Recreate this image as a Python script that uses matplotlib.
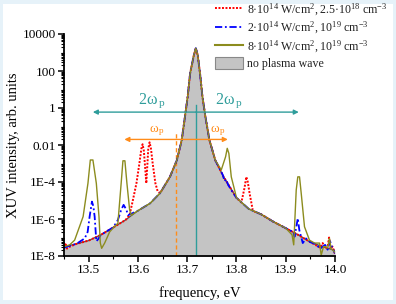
import matplotlib
matplotlib.use('Agg')
import matplotlib.pyplot as plt
from matplotlib.patches import Rectangle, Patch
from matplotlib.lines import Line2D
from matplotlib.ticker import FixedLocator, NullFormatter, MultipleLocator

plt.rcParams['font.family'] = ['Liberation Serif', 'DejaVu Serif']
plt.rcParams['mathtext.fontset'] = 'custom'
plt.rcParams['mathtext.rm'] = 'Liberation Serif'
plt.rcParams['mathtext.it'] = 'Liberation Serif:italic'

# ---------------- data ----------------
base_x = [13.450, 13.475, 13.500, 13.525, 13.550, 13.575, 13.600, 13.625, 13.645, 13.665,
          13.679, 13.689, 13.6955, 13.701, 13.706, 13.7135, 13.7175, 13.7215, 13.726, 13.731,
          13.737, 13.745, 13.757, 13.774, 13.800, 13.825, 13.850, 13.875, 13.900, 13.925,
          13.950, 13.975, 14.000]
base_y = [3.2e-8, 4.5e-8, 6.8e-8, 1.4e-7, 3.5e-7, 8.9e-7, 2.8e-6, 7.1e-6, 2.5e-5, 1.9e-4,
          1.5e-3, 1.9e-2, 0.34, 4.1, 76, 710, 1700, 710, 76, 4.1,
          0.34, 1.9e-2, 1.5e-3, 1.9e-4, 1.4e-5, 3.5e-6, 1.8e-6, 7.1e-7, 3.2e-7, 1.4e-7,
          5.6e-8, 3.2e-8, 2.0e-8]

red_x = [13.450, 13.453, 13.456, 13.462, 13.475, 13.500, 13.525, 13.550, 13.575, 13.583,
         13.590, 13.597, 13.603, 13.607, 13.6095, 13.612, 13.6155, 13.617, 13.6185, 13.621,
         13.6237, 13.6265, 13.630, 13.6355, 13.640, 13.645, 13.665, 13.679, 13.689, 13.6955,
         13.701, 13.706, 13.7135, 13.7175, 13.7215, 13.726, 13.731, 13.737, 13.745, 13.757,
         13.774, 13.800, 13.810, 13.8165, 13.820, 13.823, 13.8266, 13.833, 13.838, 13.850,
         13.875, 13.900, 13.925, 13.950, 13.960, 13.970, 13.975, 13.980, 13.985, 13.988,
         13.991, 13.995, 14.000]
red_y = [2.5e-8, 5.0e-8, 2.5e-8, 3.2e-8, 4.5e-8, 6.8e-8, 1.4e-7, 3.5e-7, 8.9e-7, 1.6e-6,
         1.1e-5, 8.5e-5, 1.0e-3, 6.3e-3, 1.1e-2, 5.0e-3, 3.2e-4, 8.5e-5, 4.0e-4, 6.3e-3,
         1.4e-2, 6.3e-3, 1.0e-3, 8.5e-5, 3.2e-5, 2.5e-5, 1.9e-4, 1.5e-3, 1.9e-2, 0.34,
         4.1, 76, 710, 1700, 710, 76, 4.1, 0.34, 1.9e-2, 1.5e-3,
         1.9e-4, 1.4e-5, 7.9e-6, 5.0e-5, 1.9e-4, 1.0e-4, 2.5e-5, 3.1e-6, 2.4e-6, 1.8e-6,
         7.1e-7, 3.2e-7, 1.4e-7, 5.6e-8, 4.0e-8, 2.8e-8, 5.0e-8, 2.5e-8, 3.2e-8, 1.0e-7,
         2.5e-8, 3.2e-8, 1.3e-8]

blue_x = [13.450, 13.460, 13.475, 13.492, 13.498, 13.502, 13.5067, 13.5095, 13.5122, 13.5156,
          13.519, 13.525, 13.550, 13.5594, 13.566, 13.571, 13.5765, 13.580, 13.600, 13.625,
          13.645, 13.665, 13.679, 13.689, 13.6955, 13.701, 13.706, 13.7135, 13.7175, 13.7215,
          13.726, 13.731, 13.737, 13.745, 13.757, 13.772, 13.776, 13.779, 13.783, 13.790,
          13.800, 13.825, 13.850, 13.875, 13.900, 13.915, 13.918, 13.9245, 13.9276, 13.9346,
          13.9412, 13.950, 13.960, 13.970, 13.980, 13.985, 13.990, 13.995, 14.000]
blue_y = [2.8e-8, 3.5e-8, 4.5e-8, 8.9e-8, 2.0e-7, 1.35e-6, 8.7e-6, 5.0e-6, 1.35e-6, 6.3e-8,
          7.9e-8, 1.4e-7, 3.5e-7, 8.9e-7, 3.1e-6, 5.8e-6, 3.2e-6, 1.6e-6, 2.8e-6, 7.1e-6,
          2.5e-5, 1.9e-4, 1.5e-3, 1.9e-2, 0.34, 4.1, 76, 710, 1700, 710,
          76, 4.1, 0.34, 1.9e-2, 1.5e-3, 2.5e-4, 1.1e-4, 1.4e-4, 7.1e-5, 3.5e-5,
          1.4e-5, 3.5e-6, 1.8e-6, 7.1e-7, 3.2e-7, 2.0e-7, 1.1e-7, 1.1e-6, 2.5e-7, 5.0e-8,
          8.9e-8, 5.6e-8, 4.5e-8, 2.5e-8, 4.0e-8, 2.2e-8, 6.3e-8, 2.5e-8, 1.4e-8]

olive_x = [13.450, 13.4615, 13.4716, 13.4888, 13.4986, 13.5034, 13.5087, 13.5156, 13.521, 13.5237,
           13.5264, 13.5325, 13.5426, 13.5527, 13.5594, 13.566, 13.5696, 13.5736, 13.5777, 13.5832,
           13.5866, 13.600, 13.625, 13.645, 13.665, 13.679, 13.689, 13.6955, 13.701, 13.706,
           13.7135, 13.7175, 13.7215, 13.726, 13.731, 13.737, 13.745, 13.757, 13.7692, 13.7779,
           13.7813, 13.7846, 13.7895, 13.7962, 13.800, 13.825, 13.850, 13.875, 13.900, 13.9128,
           13.9162, 13.9213, 13.9245, 13.928, 13.9314, 13.9381, 13.9482, 13.9584, 13.9686, 13.972,
           13.9767, 13.9807, 13.9854, 13.9888, 13.992, 14.000]
olive_y = [3.2e-8, 4.0e-8, 7.2e-8, 1.35e-6, 8.5e-5, 1.55e-3, 1.55e-3, 8.5e-5, 1.35e-6, 5.0e-8,
           2.6e-8, 5.0e-8, 2.0e-7, 4.0e-7, 5.9e-7, 8.5e-5, 1.4e-3, 1.4e-3, 8.5e-5, 3.1e-6,
           1.6e-6, 2.8e-6, 7.1e-6, 2.5e-5, 1.9e-4, 1.5e-3, 1.9e-2, 0.34, 4.1, 76,
           710, 1700, 710, 76, 4.1, 0.34, 1.9e-2, 1.5e-3, 4.5e-4, 2.3e-3,
           6.6e-3, 3.5e-3, 1.9e-4, 3.7e-5, 1.4e-5, 3.5e-6, 1.8e-6, 7.1e-7, 3.2e-7, 1.4e-7,
           4.0e-8, 3.7e-5, 1.9e-4, 1.9e-4, 2.5e-5, 3.8e-7, 7.2e-8, 5.0e-8, 5.0e-8, 1.1e-8,
           3.2e-8, 3.2e-8, 2.8e-8, 8.9e-8, 2.5e-8, 1.6e-8]

labels = ['8·10$\\mathregular{^{14}}$ W/cm$\\mathregular{^{2}}$, 2.5·10$\\mathregular{^{18}}$ cm$\\mathregular{^{-3}}$',
          '2·10$\\mathregular{^{14}}$ W/cm$\\mathregular{^{2}}$, 10$\\mathregular{^{19}}$ cm$\\mathregular{^{-3}}$',
          '8·10$\\mathregular{^{14}}$ W/cm$\\mathregular{^{2}}$, 10$\\mathregular{^{19}}$ cm$\\mathregular{^{-3}}$',
          'no plasma wave']

ytick_vals = [1e-8, 1e-6, 1e-4, 1e-2, 1, 100, 10000]
ytick_labels = ['1E-8', '1E-6', '1E-4', '0.01', '1', '100', '10000']
xtick_vals = [13.5, 13.6, 13.7, 13.8, 13.9, 14.0]

line_center = 13.7175   # XUV line centre, eV
two_wp = 0.209          # 2*omega_p, eV
shifted_center = 13.6775
wp = 0.105              # omega_p, eV
teal_arrow_y = 0.6
teal_line_top = 1.4
orange_arrow_y = 0.02
orange_line_top = 0.06

# ---------------- figure ----------------
W, H = 396, 304
fig = plt.figure(figsize=(W / 100, H / 100), dpi=100)
fig.patch.set_facecolor('#e6f2f9')
fig.patches.append(Rectangle((3 / W, 4 / H), (W - 6) / W, (H - 8) / H,
                             transform=fig.transFigure, facecolor='white',
                             edgecolor='none', zorder=-10))
ax = fig.add_axes([64 / W, 48 / H, 271 / W, 222 / H])
ax.set_facecolor('none')

teal = '#2f9d9b'
orange = '#ff8c1a'
olive = '#8c8c1e'
fillc = '#c4c4c4'

ax.fill_between(base_x, base_y, 1e-8, color=fillc, lw=0, zorder=1)
ax.plot(base_x, base_y, color='#555555', lw=1.0, zorder=2)

# vertical reference lines
ax.plot([line_center, line_center], [1e-8, teal_line_top], color=teal, lw=1.0, zorder=3)
ax.plot([shifted_center, shifted_center], [1e-8, orange_line_top], color=orange, lw=1.0,
        ls=(0, (3, 2)), zorder=3)

ax.plot(red_x, red_y, color='#ff0000', lw=1.4, ls=(0, (1, 0.8)), zorder=4)
ax.plot(blue_x, blue_y, color='#0000ff', lw=1.3, ls=(0, (4, 1.5, 1, 1.5)), zorder=5)
ax.plot(olive_x, olive_y, color=olive, lw=1.0, zorder=6)

# arrows
for sgn in (-1, 1):
    ax.annotate('', xy=(line_center + sgn * two_wp, teal_arrow_y),
                xytext=(line_center, teal_arrow_y),
                arrowprops=dict(arrowstyle='-|>', color=teal, lw=1.0,
                                mutation_scale=7, shrinkA=0, shrinkB=0), zorder=7)
    ax.annotate('', xy=(shifted_center + sgn * wp, orange_arrow_y),
                xytext=(shifted_center, orange_arrow_y),
                arrowprops=dict(arrowstyle='-|>', color=orange, lw=1.0,
                                mutation_scale=7, shrinkA=0, shrinkB=0), zorder=7)

ax.text(13.601, 1.7, r'2ω$\mathregular{_{\,p}}$', color=teal, fontsize=11.5, zorder=8)
ax.text(13.757, 1.7, r'2ω$\mathregular{_{\,p}}$', color=teal, fontsize=11.5, zorder=8)
ax.text(13.6235, 0.052, r'ω$\mathregular{_{\,p}}$', color=orange, fontsize=9.5, zorder=8)
ax.text(13.7465, 0.052, r'ω$\mathregular{_{\,p}}$', color=orange, fontsize=9.5, zorder=8)

ax.set_yscale('log')
ax.set_xlim(13.45, 14.0)
ax.set_ylim(1e-8, 1e4)

ax.yaxis.set_major_locator(FixedLocator(ytick_vals))
ax.set_yticklabels(ytick_labels)
minor = []
for e in range(-8, 4):
    for s in range(1, 10):
        v = s * 10.0 ** e
        if v not in ytick_vals:
            minor.append(v)
ax.yaxis.set_minor_locator(FixedLocator(minor))
ax.yaxis.set_minor_formatter(NullFormatter())
ax.set_xticks(xtick_vals)
ax.set_xticklabels(['13.5', '13.6', '13.7', '13.8', '13.9', '14.0'])
ax.xaxis.set_minor_locator(MultipleLocator(0.05))

for s in ('top', 'right'):
    ax.spines[s].set_visible(False)
for s in ('left', 'bottom'):
    ax.spines[s].set_linewidth(1.3)
    ax.spines[s].set_zorder(10)
ax.tick_params(which='major', direction='out', length=4, width=1.1, labelsize=9.5, pad=2)
ax.tick_params(which='minor', direction='out', length=2, width=0.8)

ax.set_xlabel('frequency, eV', fontsize=10.5, labelpad=7)
ax.set_ylabel('XUV intensity, arb. units', fontsize=10.5, labelpad=2)

handles = [Line2D([], [], color='#ff0000', lw=1.4, ls=(0, (1, 0.8))),
           Line2D([], [], color='#0000ff', lw=1.3, ls=(0, (4, 1.5, 1, 1.5))),
           Line2D([], [], color=olive, lw=1.5),
           Patch(facecolor=fillc, edgecolor='#888888', lw=0.8)]
leg = fig.legend(handles, labels, loc='upper left', bbox_to_anchor=(214 / W, 1 - 0.5 / H),
                 frameon=False, fontsize=8.6, handlelength=2.3, handleheight=1.15,
                 handletextpad=0.4, labelspacing=0.2, borderpad=0.1, borderaxespad=0)
for t in leg.get_texts():
    t.set_color('#222222')

fig.savefig('out.png', dpi=100, facecolor=fig.get_facecolor())
